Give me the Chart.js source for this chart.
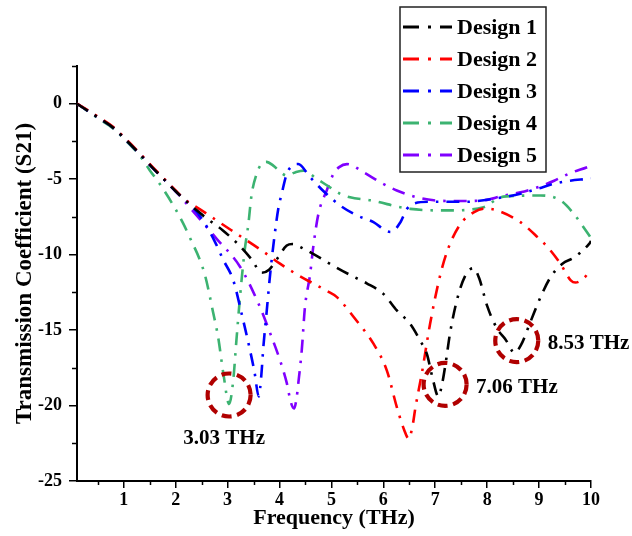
<!DOCTYPE html>
<html>
<head>
<meta charset="utf-8">
<title>Transmission Coefficient</title>
<script src="https://cdn.jsdelivr.net/npm/chart.js@4.4.0/dist/chart.umd.min.js"></script>
<style>
  html, body { margin: 0; padding: 0; background: #fff; }
  #wrap { width: 632px; height: 536px; }
</style>
</head>
<body>
<div id="wrap"><canvas id="s21Chart" width="632" height="536"></canvas></div>
<script>
// S21 sweeps for the five designs (frequency in THz, S21 value)
const d1Freq = [0.1, 0.5, 0.8, 1.0, 1.3, 1.6, 1.8, 2.0, 2.2, 2.4, 2.6, 2.91, 3.2, 3.46, 3.66, 3.8, 3.95, 4.14, 4.25, 4.46, 5.07, 5.39, 5.68, 6.0, 6.26, 6.52, 6.71, 6.84, 6.95, 7.06, 7.13, 7.2, 7.29, 7.45, 7.61, 7.74, 7.85, 8.0, 8.19, 8.35, 8.53, 8.65, 8.84, 9.03, 9.22, 9.45, 9.67, 9.96, 10];
const d1S21 = [0, -0.9, -1.6, -2.25, -3.3, -4.4, -5.1, -5.8, -6.45, -7.05, -7.6, -8.4, -9.3, -10.3, -11.2, -11.0, -10.3, -9.4, -9.3, -9.6, -10.8, -11.4, -11.9, -12.6, -13.7, -14.6, -15.7, -16.6, -18.2, -19.4, -18.6, -17.2, -15.1, -12.6, -11.2, -10.9, -11.6, -13.4, -14.9, -15.6, -16.5, -16.0, -14.4, -12.8, -11.5, -10.6, -10.2, -9.3, -9.1];

const d2Freq = [0.1, 0.5, 0.8, 1.0, 1.3, 1.6, 1.8, 2.0, 2.2, 2.47, 3.08, 3.69, 4.01, 4.33, 4.91, 5.1, 5.49, 5.81, 6.07, 6.26, 6.4, 6.49, 6.56, 6.62, 6.74, 6.9, 7.1, 7.26, 7.48, 7.74, 7.95, 8.19, 8.64, 8.97, 9.19, 9.41, 9.61, 9.7, 9.85, 10];
const d2S21 = [0, -0.85, -1.55, -2.2, -3.25, -4.35, -5.05, -5.75, -6.4, -7.0, -8.4, -9.8, -10.6, -11.3, -12.4, -12.8, -14.4, -15.9, -17.7, -20.1, -21.6, -22.2, -21.4, -20.1, -17.9, -14.6, -11.3, -9.5, -8.0, -7.2, -6.95, -7.07, -7.85, -8.84, -9.6, -10.6, -11.7, -11.85, -11.6, -11.0];

const d3Freq = [0.1, 0.5, 0.8, 1.0, 1.3, 1.6, 1.8, 2.0, 2.3, 2.5, 2.75, 2.91, 3.11, 3.27, 3.43, 3.52, 3.6, 3.65, 3.69, 3.75, 3.82, 3.91, 3.98, 4.04, 4.14, 4.25, 4.36, 4.59, 4.85, 5.17, 5.49, 5.81, 6.07, 6.15, 6.33, 6.45, 6.6, 6.9, 7.23, 7.6, 7.93, 8.3, 8.64, 9.0, 9.29, 9.6, 9.93, 10];
const d3S21 = [0, -0.9, -1.6, -2.25, -3.3, -4.4, -5.1, -5.8, -6.75, -7.6, -9.1, -10.3, -11.7, -13.9, -16.3, -17.8, -19.4, -18.0, -16.1, -13.9, -11.3, -8.6, -6.9, -6.0, -4.65, -4.1, -3.99, -4.87, -5.8, -6.75, -7.4, -7.85, -8.45, -8.5, -7.85, -7.0, -6.6, -6.5, -6.5, -6.5, -6.4, -6.2, -5.97, -5.6, -5.3, -5.1, -4.98, -4.95];

const d4Freq = [0.1, 0.5, 0.8, 1.0, 1.3, 1.5, 1.73, 2.0, 2.14, 2.27, 2.56, 2.72, 2.82, 2.92, 3.03, 3.11, 3.17, 3.24, 3.33, 3.4, 3.46, 3.56, 3.65, 3.75, 3.88, 4.01, 4.14, 4.3, 4.46, 4.72, 4.91, 5.17, 5.36, 5.75, 6.52, 7.23, 7.93, 8.26, 8.6, 9.03, 9.41, 9.67, 9.9, 10];
const d4S21 = [0, -0.95, -1.65, -2.3, -3.4, -4.4, -5.5, -7.0, -7.9, -8.84, -11.3, -13.8, -15.5, -17.9, -19.9, -18.3, -15.7, -12.8, -9.7, -8.0, -6.1, -4.65, -4.0, -3.85, -4.1, -4.5, -4.76, -4.55, -4.43, -4.98, -5.4, -5.97, -6.2, -6.4, -6.97, -7.07, -6.86, -6.2, -6.1, -6.08, -6.4, -7.3, -8.4, -8.9];

const d5Freq = [0.1, 0.5, 0.8, 1.0, 1.3, 1.6, 1.8, 2.0, 2.27, 2.79, 3.24, 3.59, 3.82, 4.01, 4.14, 4.22, 4.28, 4.33, 4.36, 4.43, 4.49, 4.59, 4.65, 4.75, 4.91, 5.04, 5.15, 5.3, 5.62, 5.94, 6.26, 6.65, 6.97, 7.5, 7.93, 8.3, 8.64, 9.0, 9.29, 9.6, 9.93, 10];
const d5S21 = [0, -0.9, -1.6, -2.25, -3.3, -4.4, -5.1, -5.8, -6.86, -8.95, -10.8, -13.2, -15.2, -17.0, -18.5, -19.8, -20.2, -19.5, -18.6, -16.3, -13.5, -11.3, -9.5, -7.3, -5.75, -4.65, -4.2, -4.0, -4.54, -5.2, -5.75, -6.2, -6.4, -6.45, -6.4, -6.1, -5.87, -5.5, -5.1, -4.6, -4.2, -4.1];

const designNames = ['Design 1', 'Design 2', 'Design 3', 'Design 4', 'Design 5'];
const designColors = ['#000000', '#ff0000', '#0000ff', '#3cb371', '#8000ff'];

// axis ticks
const xMajorTicks = [1, 2, 3, 4, 5, 6, 7, 8, 9, 10];
const xMinorTicks = [0.5, 1.5, 2.5, 3.5, 4.5, 5.5, 6.5, 7.5, 8.5, 9.5];
const yMajorTicks = [-25, -20, -15, -10, -5, 0];
const yMinorTicks = [-22.5, -17.5, -12.5, -7.5, -2.5, 2.5];

// resonance call-outs
const peakLabels = ['3.03 THz', '7.06 THz', '8.53 THz'];
const ringFreq = [3.03, 7.19, 8.57];
const ringS21 = [-19.3, -18.6, -15.7];

const SERIF = '"Liberation Serif", "Times New Roman", serif';
const dashDot = [13, 8, 2.5, 8];
const RED_RING = '#b00000';

const series = [
  [d1Freq, d1S21], [d2Freq, d2S21], [d3Freq, d3S21], [d4Freq, d4S21], [d5Freq, d5S21]
];

const datasets = series.map(([fx, sy], i) => ({
  label: designNames[i],
  data: fx.map((f, k) => ({ x: f, y: sy[k] })),
  borderColor: designColors[i],
  backgroundColor: designColors[i],
  borderDash: dashDot,
  borderWidth: 2.6,
  pointRadius: 0,
  cubicInterpolationMode: 'monotone',
  fill: false
}));

// short ticks between the labelled ones
const minorTicks = {
  id: 'minorTicks',
  afterDraw(chart) {
    const { ctx, scales: { x, y }, chartArea } = chart;
    ctx.save();
    ctx.strokeStyle = '#000';
    ctx.lineWidth = 1.5;
    ctx.beginPath();
    xMinorTicks.forEach(v => {
      const px = Math.round(x.getPixelForValue(v)) + 0.5;
      ctx.moveTo(px, chartArea.bottom);
      ctx.lineTo(px, chartArea.bottom + 4);
    });
    yMinorTicks.forEach(v => {
      const py = Math.round(y.getPixelForValue(v)) + 0.5;
      ctx.moveTo(chartArea.left, py);
      ctx.lineTo(chartArea.left - 5, py);
    });
    ctx.stroke();
    ctx.restore();
  }
};

// boxed legend in the upper right corner
const designLegend = {
  id: 'designLegend',
  afterDraw(chart) {
    const { ctx } = chart;
    const box = { left: 400, top: 7, width: 146, height: 165 };
    ctx.save();
    ctx.fillStyle = '#fff';
    ctx.fillRect(box.left, box.top, box.width, box.height);
    ctx.strokeStyle = '#222';
    ctx.lineWidth = 1.5;
    ctx.strokeRect(box.left, box.top, box.width, box.height);
    ctx.font = 'bold 22px ' + SERIF;
    ctx.textBaseline = 'middle';
    ctx.textAlign = 'left';
    chart.data.datasets.forEach((ds, i) => {
      const rowY = 27 + i * 32;
      ctx.strokeStyle = ds.borderColor;
      ctx.lineWidth = 3;
      ctx.setLineDash([16, 9, 3, 9]);
      ctx.beginPath();
      ctx.moveTo(403, rowY);
      ctx.lineTo(452, rowY);
      ctx.stroke();
      ctx.setLineDash([]);
      ctx.fillStyle = '#000';
      ctx.fillText(ds.label, 457, rowY + 1);
    });
    ctx.restore();
  }
};

// dashed rings around the resonance dips with their frequencies
const peakMarkers = {
  id: 'peakMarkers',
  afterDatasetsDraw(chart) {
    const { ctx, scales: { x, y } } = chart;
    ctx.save();
    ctx.font = 'bold 21px ' + SERIF;
    ctx.textBaseline = 'middle';
    ringFreq.forEach((f, i) => {
      const cx = x.getPixelForValue(f);
      const cy = y.getPixelForValue(ringS21[i]);
      ctx.strokeStyle = RED_RING;
      ctx.lineWidth = 4.2;
      ctx.setLineDash([10, 5.5]);
      ctx.beginPath();
      ctx.arc(cx, cy, 21.5, 0, Math.PI * 2);
      ctx.stroke();
      ctx.setLineDash([]);
      ctx.fillStyle = '#000';
      if (i === 0) {
        ctx.textAlign = 'center';
        ctx.fillText(peakLabels[i], cx - 5, cy + 44);
      } else {
        ctx.textAlign = 'left';
        ctx.fillText(peakLabels[i], cx + 31, cy + 3);
      }
    });
    ctx.restore();
  }
};

const ctx = document.getElementById('s21Chart').getContext('2d');

new Chart(ctx, {
  type: 'line',
  data: { datasets },
  options: {
    responsive: false,
    animation: false,
    devicePixelRatio: 1,
    layout: { padding: { left: 0, top: 66, right: 41, bottom: 0 } },
    plugins: {
      legend: { display: false },
      tooltip: { enabled: false }
    },
    scales: {
      x: {
        type: 'linear',
        min: 0.1,
        max: 10,
        afterFit: s => { s.height = 55; },
        afterBuildTicks: s => { s.ticks = xMajorTicks.map(v => ({ value: v })); },
        border: { color: '#000', width: 2 },
        grid: { drawOnChartArea: false, color: '#000', tickLength: 7, lineWidth: 1.5 },
        ticks: {
          color: '#000',
          padding: 2,
          maxRotation: 0,
          font: { family: SERIF, size: 18, weight: 'bold' },
          callback: v => String(v)
        },
        title: {
          display: true,
          text: 'Frequency (THz)',
          color: '#000',
          padding: { top: 0, bottom: 4 },
          font: { family: SERIF, size: 22, weight: 'bold' }
        }
      },
      y: {
        type: 'linear',
        min: -25,
        max: 2.5,
        afterFit: s => { s.width = 77; },
        afterBuildTicks: s => { s.ticks = yMajorTicks.map(v => ({ value: v })); },
        border: { color: '#000', width: 2 },
        grid: { drawOnChartArea: false, color: '#000', tickLength: 8, lineWidth: 1.5 },
        ticks: {
          color: '#000',
          padding: 7,
          font: { family: SERIF, size: 18, weight: 'bold' },
          callback: v => String(v)
        },
        title: {
          display: true,
          text: 'Transmission Coefficient (S21)',
          color: '#000',
          padding: { top: 11, bottom: 0 },
          font: { family: SERIF, size: 23, weight: 'bold' }
        }
      }
    }
  },
  plugins: [minorTicks, peakMarkers, designLegend]
});
</script>
</body>
</html>
